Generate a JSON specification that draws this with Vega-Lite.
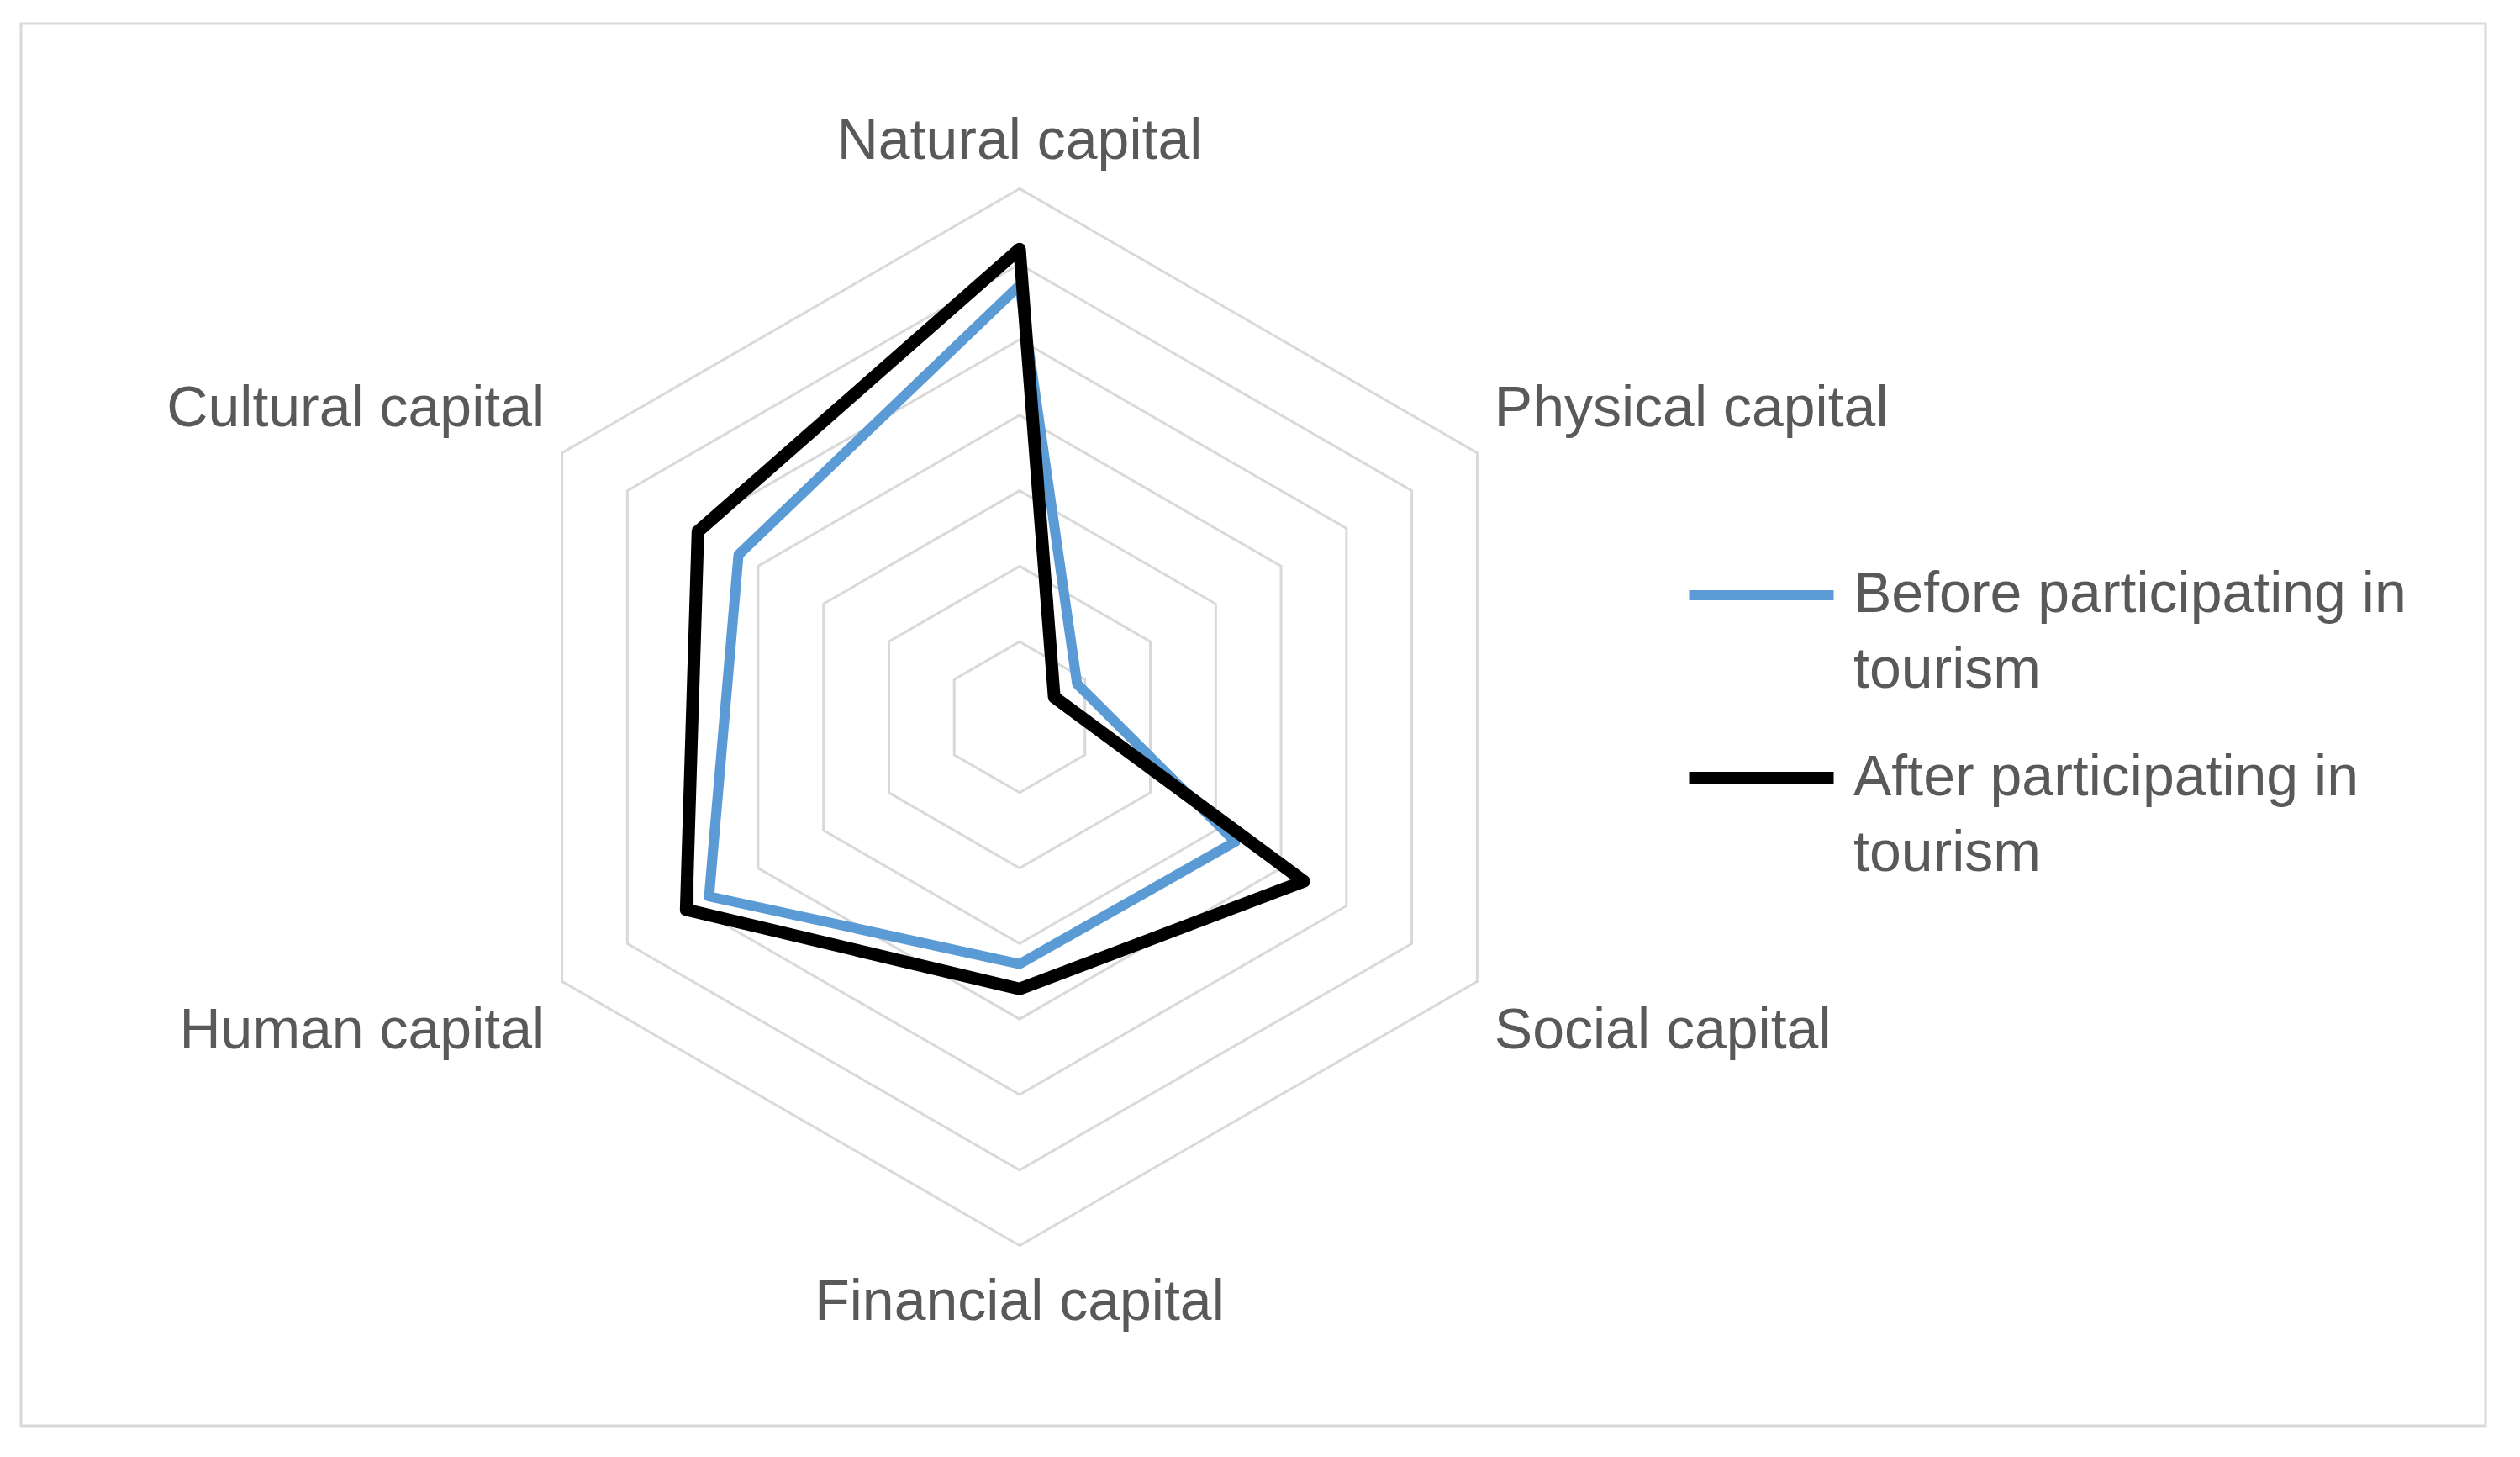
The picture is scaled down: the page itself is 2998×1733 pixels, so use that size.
{
  "$schema": "https://vega.github.io/schema/vega-lite/v6.json",
  "width": 2932,
  "height": 1668,
  "autosize": {"type": "none"},
  "padding": {"left": 25, "top": 28, "right": 41, "bottom": 37},
  "background": "white",
  "config": {
    "view": {"stroke": "#d9d9d9", "strokeWidth": 3},
    "style": {"guide-label": {"lineHeight": 90}}
  },
  "datasets": {
    "vals": [
      {"series": "Before participating in tourism", "capital": "Natural capital", "idx": 0, "value": 5.72},
      {"series": "Before participating in tourism", "capital": "Physical capital", "idx": 1, "value": 0.88},
      {"series": "Before participating in tourism", "capital": "Social capital", "idx": 2, "value": 3.3},
      {"series": "Before participating in tourism", "capital": "Financial capital", "idx": 3, "value": 3.27},
      {"series": "Before participating in tourism", "capital": "Human capital", "idx": 4, "value": 4.75},
      {"series": "Before participating in tourism", "capital": "Cultural capital", "idx": 5, "value": 4.3},
      {"series": "After participating in tourism", "capital": "Natural capital", "idx": 0, "value": 6.2},
      {"series": "After participating in tourism", "capital": "Physical capital", "idx": 1, "value": 0.53},
      {"series": "After participating in tourism", "capital": "Social capital", "idx": 2, "value": 4.35},
      {"series": "After participating in tourism", "capital": "Financial capital", "idx": 3, "value": 3.6},
      {"series": "After participating in tourism", "capital": "Human capital", "idx": 4, "value": 5.1},
      {"series": "After participating in tourism", "capital": "Cultural capital", "idx": 5, "value": 4.92}
    ],
    "grid": [
      {"ring": 1, "idx": 0}, {"ring": 1, "idx": 1}, {"ring": 1, "idx": 2}, {"ring": 1, "idx": 3}, {"ring": 1, "idx": 4}, {"ring": 1, "idx": 5},
      {"ring": 2, "idx": 0}, {"ring": 2, "idx": 1}, {"ring": 2, "idx": 2}, {"ring": 2, "idx": 3}, {"ring": 2, "idx": 4}, {"ring": 2, "idx": 5},
      {"ring": 3, "idx": 0}, {"ring": 3, "idx": 1}, {"ring": 3, "idx": 2}, {"ring": 3, "idx": 3}, {"ring": 3, "idx": 4}, {"ring": 3, "idx": 5},
      {"ring": 4, "idx": 0}, {"ring": 4, "idx": 1}, {"ring": 4, "idx": 2}, {"ring": 4, "idx": 3}, {"ring": 4, "idx": 4}, {"ring": 4, "idx": 5},
      {"ring": 5, "idx": 0}, {"ring": 5, "idx": 1}, {"ring": 5, "idx": 2}, {"ring": 5, "idx": 3}, {"ring": 5, "idx": 4}, {"ring": 5, "idx": 5},
      {"ring": 6, "idx": 0}, {"ring": 6, "idx": 1}, {"ring": 6, "idx": 2}, {"ring": 6, "idx": 3}, {"ring": 6, "idx": 4}, {"ring": 6, "idx": 5},
      {"ring": 7, "idx": 0}, {"ring": 7, "idx": 1}, {"ring": 7, "idx": 2}, {"ring": 7, "idx": 3}, {"ring": 7, "idx": 4}, {"ring": 7, "idx": 5}
    ]
  },
  "layer": [
    {
      "data": {"name": "grid"},
      "transform": [
        {"calculate": "datum.idx * PI / 3", "as": "a"},
        {"calculate": "datum.ring * sin(datum.a)", "as": "px"},
        {"calculate": "datum.ring * cos(datum.a)", "as": "py"}
      ],
      "mark": {"type": "line", "interpolate": "linear-closed", "stroke": "#d9d9d9", "strokeWidth": 3},
      "encoding": {
        "x": {"field": "px", "type": "quantitative", "scale": {"domain": [-13.229, 19.421], "nice": false, "zero": false}, "axis": null},
        "y": {"field": "py", "type": "quantitative", "scale": {"domain": [-9.388, 9.187], "nice": false, "zero": false}, "axis": null},
        "detail": {"field": "ring", "type": "nominal"},
        "order": {"field": "idx", "type": "quantitative"}
      }
    },
    {
      "data": {"name": "vals"},
      "transform": [
        {"calculate": "datum.idx * PI / 3", "as": "a"},
        {"calculate": "datum.value * sin(datum.a)", "as": "px"},
        {"calculate": "datum.value * cos(datum.a)", "as": "py"}
      ],
      "mark": {"type": "line", "interpolate": "linear-closed", "strokeJoin": "round", "strokeCap": "round"},
      "encoding": {
        "x": {"field": "px", "type": "quantitative"},
        "y": {"field": "py", "type": "quantitative"},
        "order": {"field": "idx", "type": "quantitative"},
        "strokeWidth": {"field": "series", "type": "nominal", "scale": {"domain": ["Before participating in tourism", "After participating in tourism"], "range": [12, 15]}, "legend": null},
        "stroke": {
          "field": "series", "type": "nominal",
          "scale": {"domain": ["Before participating in tourism", "After participating in tourism"], "range": ["#5b9bd5", "#000000"]},
          "legend": {
            "title": null,
            "orient": "none",
            "legendX": 1977,
            "legendY": 588,
            "symbolType": "stroke",
            "symbolSize": 29584,
            "symbolStrokeWidth": 15,
            "labelFont": "Liberation Sans",
            "labelFontSize": 68,
            "labelColor": "#595959",
            "labelOffset": 16,
            "labelLimit": 2000,
            "rowPadding": 0,
            "labelExpr": "datum.label == 'Before participating in tourism' ? ['Before participating in', 'tourism'] : ['After participating in', 'tourism']"
          }
        }
      }
    },
    {
      "data": {"name": "vals"},
      "transform": [
        {"filter": "datum.series == 'Before participating in tourism' && (datum.idx == 0 || datum.idx == 3)"},
        {"calculate": "0", "as": "lx"},
        {"calculate": "datum.idx == 0 ? 7.62 : -7.76", "as": "ly"}
      ],
      "mark": {"type": "text", "align": "center", "baseline": "middle", "font": "Liberation Sans", "fontSize": 68, "fill": "#595959"},
      "encoding": {
        "x": {"field": "lx", "type": "quantitative"},
        "y": {"field": "ly", "type": "quantitative"},
        "text": {"field": "capital", "type": "nominal"}
      }
    },
    {
      "data": {"name": "vals"},
      "transform": [
        {"filter": "datum.series == 'Before participating in tourism' && (datum.idx == 1 || datum.idx == 2)"},
        {"calculate": "6.29", "as": "lx"},
        {"calculate": "datum.idx == 1 ? 4.07 : -4.17", "as": "ly"}
      ],
      "mark": {"type": "text", "align": "left", "baseline": "middle", "font": "Liberation Sans", "fontSize": 68, "fill": "#595959"},
      "encoding": {
        "x": {"field": "lx", "type": "quantitative"},
        "y": {"field": "ly", "type": "quantitative"},
        "text": {"field": "capital", "type": "nominal"}
      }
    },
    {
      "data": {"name": "vals"},
      "transform": [
        {"filter": "datum.series == 'Before participating in tourism' && (datum.idx == 4 || datum.idx == 5)"},
        {"calculate": "-6.29", "as": "lx"},
        {"calculate": "datum.idx == 5 ? 4.07 : -4.17", "as": "ly"}
      ],
      "mark": {"type": "text", "align": "right", "baseline": "middle", "font": "Liberation Sans", "fontSize": 68, "fill": "#595959"},
      "encoding": {
        "x": {"field": "lx", "type": "quantitative"},
        "y": {"field": "ly", "type": "quantitative"},
        "text": {"field": "capital", "type": "nominal"}
      }
    }
  ]
}
